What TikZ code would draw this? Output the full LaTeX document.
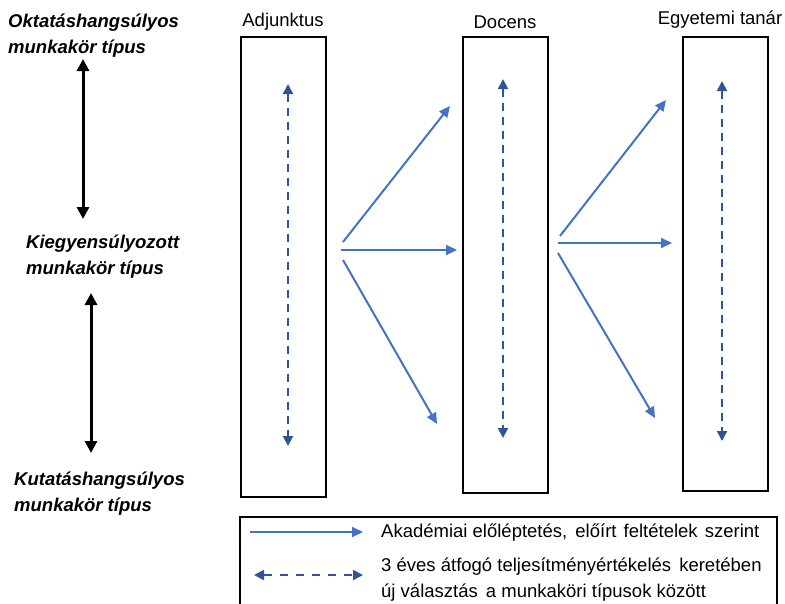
\documentclass[tikz,border=0pt]{standalone}
\usepackage{fontspec}
\setmainfont{Liberation Sans}
\usetikzlibrary{arrows.meta, positioning}
\definecolor{promoblue}{HTML}{4472C4}
\definecolor{reviewblue}{HTML}{2F5597}

\begin{document}
\begin{tikzpicture}[
    x=1pt, y=-1pt,
    rank/.style={draw, line width=1.5pt, minimum width=85pt, inner sep=0pt},
    ranklabel/.style={font=\fontsize{18.5}{22}\selectfont, inner sep=0pt},
    jobtype/.style={font=\fontsize{18.5}{26}\selectfont\bfseries\itshape, align=left, anchor=west, inner sep=0pt},
    legendtext/.style={font=\fontsize{18.5}{26}\selectfont, align=left, anchor=west, inner sep=0pt},
    promo/.style={-{Triangle[length=11pt, width=10pt]}, line width=2pt, color=promoblue},
    review/.style={{Triangle[length=10pt, width=10pt]}-{Triangle[length=10pt, width=10pt]}, line width=2pt, color=reviewblue, dash pattern=on 8pt off 6pt},
    axis/.style={{Triangle[length=12pt, width=12pt]}-{Triangle[length=12pt, width=12pt]}, line width=3pt},
]
    \clip (0,0) rectangle (785,603);
    \useasboundingbox (0,0) rectangle (785,603);

    % Job type axis
    \node[jobtype] (teach) at (8, 36) {Oktatáshangsúlyos\\munkakör típus};
    \node[jobtype] (balance) at (26, 257) {Kiegyensúlyozott\\munkakör típus};
    \node[jobtype] (research) at (14, 494) {Kutatáshangsúlyos\\munkakör típus};
    \coordinate (ax1top) at (83, 59);
    \coordinate (ax1bot) at (83, 219);
    \coordinate (ax2top) at (91, 293);
    \coordinate (ax2bot) at (91, 453);
    \draw[axis] (ax1top) -- (ax1bot);
    \draw[axis] (ax2top) -- (ax2bot);

    % Ranks
    \node[rank, minimum height=460pt] (adj) at (283.5, 267) {};
    \node[rank, minimum height=456pt] (doc) at (505.5, 265) {};
    \node[rank, minimum height=454pt] (prof) at (725.5, 264) {};
    \node[ranklabel] (adjlabel) at (283, 22) {Adjunktus};
    \node[ranklabel] (doclabel) at (505, 22) {Docens};
    \node[ranklabel] (proflabel) at (720, 20) {Egyetemi tanár};

    % Review within rank
    \coordinate (adjtop) at (288, 84);
    \coordinate (adjbot) at (288, 446);
    \coordinate (doctop) at (503, 79);
    \coordinate (docbot) at (503, 438);
    \coordinate (proftop) at (722, 81);
    \coordinate (profbot) at (722, 441);
    \draw[review] (adjtop) -- (adjbot);
    \draw[review] (doctop) -- (docbot);
    \draw[review] (proftop) -- (profbot);

    % Promotion
    \coordinate (adjup) at (343, 242);
    \coordinate (adjmid) at (341, 250);
    \coordinate (adjdown) at (343, 260);
    \coordinate (docup) at (450, 106);
    \coordinate (docmid) at (457, 250);
    \coordinate (docdown) at (437, 424);
    \draw[promo] (adjup) -- (docup);
    \draw[promo] (adjmid) -- (docmid);
    \draw[promo] (adjdown) -- (docdown);
    \coordinate (docup2) at (560, 236);
    \coordinate (docmid2) at (558, 243);
    \coordinate (docdown2) at (558, 253);
    \coordinate (profup) at (666, 100);
    \coordinate (profmid) at (672, 243);
    \coordinate (profdown) at (655, 418);
    \draw[promo] (docup2) -- (profup);
    \draw[promo] (docmid2) -- (profmid);
    \draw[promo] (docdown2) -- (profdown);

    % Legend
    \node[draw, line width=1.5pt, minimum width=537pt, minimum height=120pt, anchor=north west, inner sep=0pt] (legend) at (239, 516) {};
    \coordinate (lgpromoa) at (250, 532);
    \coordinate (lgpromob) at (363, 532);
    \coordinate (lgreviewa) at (254, 575);
    \coordinate (lgreviewb) at (363, 575);
    \draw[promo] (lgpromoa) -- (lgpromob);
    \draw[review, dash pattern=on 8pt off 8pt] (lgreviewa) -- (lgreviewb);
    \node[legendtext] (lgpromo) at (381, 533) {Akadémiai előléptetés,\hspace{3pt} előírt\hspace{2pt} feltételek\hspace{2pt} szerint};
    \node[legendtext] (lgreview) at (381, 580) {3 éves átfogó teljesítményértékelés\hspace{3pt} keretében\\új választás\hspace{3pt} a munkaköri típusok között};

\end{tikzpicture}
\end{document}
